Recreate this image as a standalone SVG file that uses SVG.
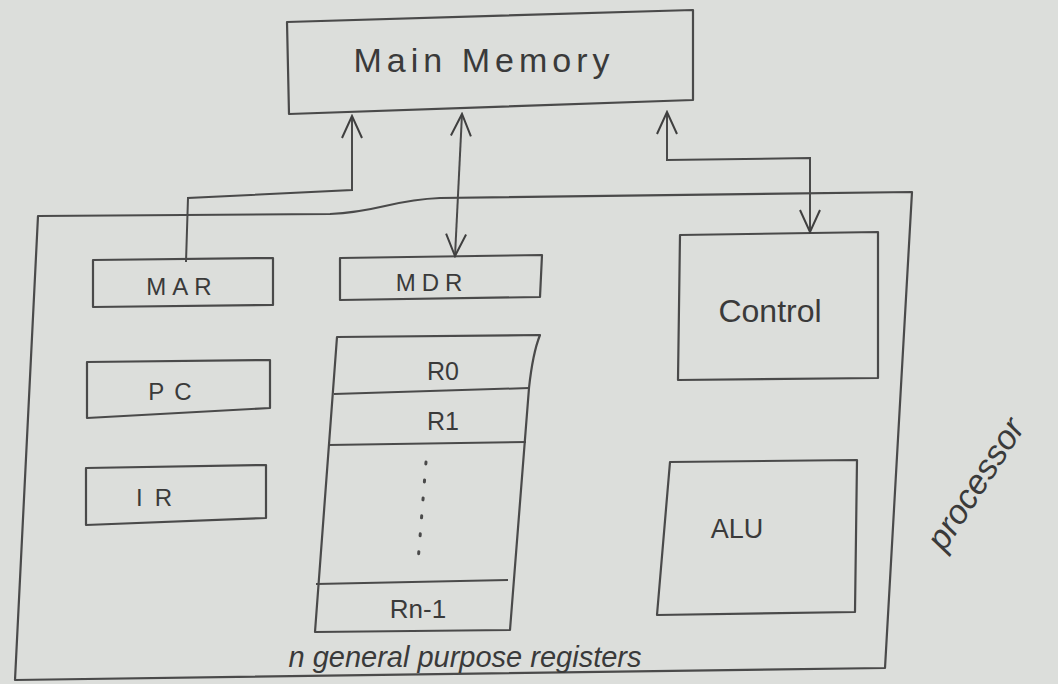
<svg xmlns="http://www.w3.org/2000/svg" width="1058" height="684" viewBox="0 0 1058 684">
<defs>
<marker id="open" viewBox="0 0 26 26" refX="24" refY="13" markerWidth="26" markerHeight="26" markerUnits="userSpaceOnUse" orient="auto-start-reverse">
<polyline points="2,3 24,13 2,23" fill="none" stroke="#3f3f3f" stroke-width="2"/>
</marker>
<style>
.box{fill:none;stroke:#4a4a4a;stroke-width:2.2;stroke-linejoin:round}
.ln{fill:none;stroke:#4a4a4a;stroke-width:2}
.t{font-family:"Liberation Sans",Arial,sans-serif;fill:#3a3a3a;text-anchor:middle}
</style>
</defs>
<rect width="1058" height="684" fill="#dcdedb"/>
<g id="processor">
<path class="box" d="M38,216 L330,214 C380,212 390,200 440,198 L912,192 L885,668 L15,680 Z"/>
<text class="t" x="985" y="490" font-size="34" font-style="italic" transform="rotate(-57 985 490)">processor</text>
</g>
<g id="main-memory">
<polygon class="box" points="287,22 693,10 693,100 289,114"/>
<text class="t" x="484" y="72" font-size="34" letter-spacing="5">Main Memory</text>
</g>
<g id="mar">
<polygon class="box" points="93,260 273,258 273,305 93,307"/>
<text class="t" x="182" y="295" font-size="24" letter-spacing="6">MAR</text>
</g>
<g id="mdr">
<polygon class="box" points="340,258 542,255 540,297 340,300"/>
<text class="t" x="432" y="291" font-size="24" letter-spacing="6">MDR</text>
</g>
<g id="pc">
<polygon class="box" points="87,362 270,360 270,408 87,418"/>
<text class="t" x="175" y="400" font-size="24" letter-spacing="10">PC</text>
</g>
<g id="ir">
<polygon class="box" points="86,468 266,465 266,518 86,525"/>
<text class="t" x="160" y="506" font-size="24" letter-spacing="12">IR</text>
</g>
<g id="control">
<polygon class="box" points="680,235 878,232 878,378 678,380"/>
<text class="t" x="770" y="322" font-size="32">Control</text>
</g>
<g id="alu">
<polygon class="box" points="670,462 857,460 855,612 657,615"/>
<text class="t" x="737" y="538" font-size="27">ALU</text>
</g>
<g id="registers">
<path class="box" d="M337,337 L540,335 C536,345 532,360 529,388 L510,630 L315,632 Z"/>
<line class="ln" x1="334" y1="394" x2="529" y2="388"/>
<line class="ln" x1="328" y1="445" x2="526" y2="442"/>
<line class="ln" x1="316" y1="584" x2="508" y2="580"/>
<text class="t" x="443" y="380" font-size="25">R0</text>
<text class="t" x="443" y="430" font-size="25">R1</text>
<line x1="426" y1="462" x2="418" y2="562" stroke="#4a4a4a" stroke-width="3" stroke-linecap="round" stroke-dasharray="2,16"/>
<text class="t" x="418" y="618" font-size="26">Rn-1</text>
<text class="t" x="465" y="667" font-size="29" font-style="italic">n general purpose registers</text>
</g>
<g id="connectors">
<polyline class="ln" points="186,262 188,198 352,190 352,116" marker-end="url(#open)"/>
<line class="ln" x1="462" y1="114" x2="455" y2="256" marker-start="url(#open)" marker-end="url(#open)"/>
<polyline class="ln" points="667,112 667,160 810,158 810,232" marker-start="url(#open)" marker-end="url(#open)"/>
</g>
</svg>
